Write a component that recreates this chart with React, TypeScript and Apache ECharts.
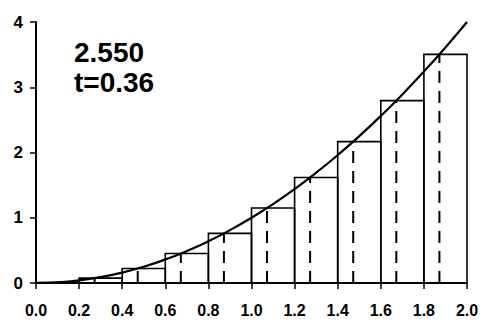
import React, { useEffect, useRef } from "react";
import * as echarts from "echarts";

const xTickLabels = ["0.0", "0.2", "0.4", "0.6", "0.8", "1.0", "1.2", "1.4", "1.6", "1.8", "2.0"];
const yTickLabels = ["0", "1", "2", "3", "4"];

const barLeft = [0, 0.2, 0.4, 0.6, 0.8, 1.0, 1.2, 1.4, 1.6, 1.8];
const barRight = [0.2, 0.4, 0.6, 0.8, 1.0, 1.2, 1.4, 1.6, 1.8, 2.0];
const sampleX = [0.072, 0.272, 0.472, 0.672, 0.872, 1.072, 1.272, 1.472, 1.672, 1.872];
const barHeight = [0.005, 0.074, 0.223, 0.452, 0.76, 1.149, 1.618, 2.166, 2.795, 3.504];

const curveX = [0, 0.1, 0.2, 0.3, 0.4, 0.5, 0.6, 0.7, 0.8, 0.9, 1.0, 1.1, 1.2, 1.3, 1.4, 1.5, 1.6, 1.7, 1.8, 1.9, 2.0];
const curveY = [0, 0.01, 0.04, 0.09, 0.16, 0.25, 0.36, 0.49, 0.64, 0.81, 1.0, 1.21, 1.44, 1.69, 1.96, 2.25, 2.56, 2.89, 3.24, 3.61, 4.0];

const sumText = "2.550";
const tText = "t=0.36";

export default function App() {
  const ref = useRef<HTMLDivElement>(null);
  useEffect(() => {
    if (!ref.current) return;
    const chart = echarts.init(ref.current, null, { renderer: "svg" });
    const barData = barLeft.map((l, i) => [l, barRight[i], sampleX[i], barHeight[i]]);
    const curveData = curveX.map((x, i) => [x, curveY[i]]);
    chart.setOption({
      animation: false,
      backgroundColor: "#fff",
      grid: { left: 36, right: 17, top: 22, bottom: 39 },
      xAxis: {
        type: "value",
        min: 0,
        max: 2,
        interval: 0.2,
        axisLine: { show: true, lineStyle: { color: "#000", width: 2 } },
        axisTick: { show: true, length: 6, lineStyle: { color: "#000", width: 1.5 } },
        splitLine: { show: false },
        axisLabel: {
          margin: 19,
          color: "#000",
          fontFamily: "Liberation Sans, Arial, sans-serif",
          fontWeight: "bold",
          fontSize: 16,
          formatter: (v: number) => xTickLabels[Math.round(v / 0.2)] ?? "",
        },
      },
      yAxis: {
        type: "value",
        min: 0,
        max: 4,
        interval: 1,
        axisLine: { show: true, lineStyle: { color: "#000", width: 2 } },
        axisTick: { show: true, length: 6, lineStyle: { color: "#000", width: 1.5 } },
        splitLine: { show: false },
        axisLabel: {
          margin: 13,
          color: "#000",
          fontFamily: "Liberation Sans, Arial, sans-serif",
          fontWeight: "bold",
          fontSize: 17,
          formatter: (v: number) => yTickLabels[Math.round(v)] ?? "",
        },
      },
      graphic: [
        {
          type: "text",
          left: 74,
          top: 37,
          style: {
            text: sumText + "\n" + tText,
            fontFamily: "Liberation Sans, Arial, sans-serif",
            fontWeight: "bold",
            fontSize: 28,
            lineHeight: 30,
            fill: "#000",
          },
        },
      ],
      series: [
        {
          type: "custom",
          clip: false,
          data: barData,
          renderItem: (params: any, api: any) => {
            const l = api.value(0);
            const r = api.value(1);
            const s = api.value(2);
            const h = api.value(3);
            const p0 = api.coord([l, 0]);
            const p1 = api.coord([r, h]);
            const d0 = api.coord([s, 0]);
            const d1 = api.coord([s, h]);
            return {
              type: "group",
              children: [
                {
                  type: "rect",
                  shape: { x: p0[0], y: p1[1], width: p1[0] - p0[0], height: p0[1] - p1[1] },
                  style: { fill: "none", stroke: "#000", lineWidth: 1.6 },
                },
                {
                  type: "line",
                  shape: { x1: d0[0], y1: d0[1], x2: d1[0], y2: d1[1] },
                  style: { stroke: "#000", lineWidth: 2, lineDash: [12, 8] },
                },
              ],
            };
          },
          z: 2,
        },
        {
          type: "line",
          data: curveData,
          smooth: true,
          showSymbol: false,
          lineStyle: { color: "#000", width: 2.2 },
          z: 3,
        },
      ],
    });
    return () => chart.dispose();
  }, []);
  return <div ref={ref} style={{ position: "fixed", left: 0, top: 0, width: 484, height: 322 }} />;
}
